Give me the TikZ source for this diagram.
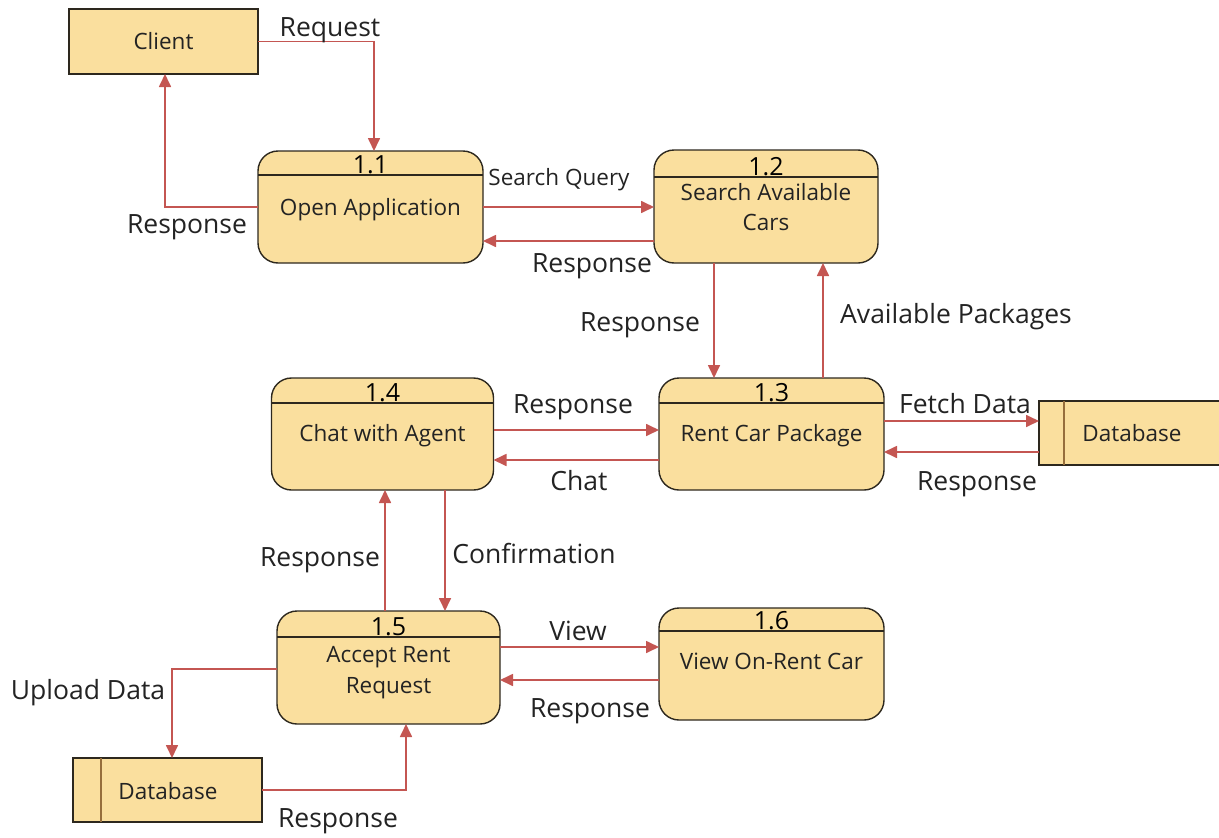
\documentclass[tikz,border=0pt]{standalone}
\usepackage{fontspec}
\setmainfont{Open Sans}
\usetikzlibrary{arrows.meta}
\definecolor{boxfill}{RGB}{250,223,158}
\definecolor{boxline}{RGB}{45,40,30}
\definecolor{flowred}{RGB}{196,86,82}
\definecolor{storeline}{RGB}{150,110,60}
\definecolor{txt}{RGB}{35,35,35}
\tikzset{
  procbox/.style={draw=boxline, line width=1.4pt, fill=boxfill, rounded corners=20pt,
    inner sep=0pt, outer sep=0pt},
  entbox/.style={draw=boxline, line width=1.4pt, fill=boxfill, inner sep=0pt, outer sep=0pt},
  divline/.style={draw=boxline, line width=1.4pt},
  storediv/.style={draw=storeline, line width=1.1pt},
  numtxt/.style={anchor=base, inner sep=0pt, text=black, font=\fontsize{25}{28}\selectfont},
  proctxt/.style={anchor=base, inner sep=0pt, text=txt, font=\fontsize{22.5}{26}\selectfont},
  lbl/.style={anchor=base, inner sep=0pt, text=txt, font=\fontsize{26.5}{30}\selectfont},
  smalllbl/.style={anchor=base, inner sep=0pt, text=txt, font=\fontsize{22.5}{26}\selectfont},
  flow/.style={draw=flowred, line width=1.7pt, -{Triangle[length=13pt,width=12pt]}},
}
\begin{document}
\begin{tikzpicture}[x=1pt,y=-1pt]
\useasboundingbox (0,0) rectangle (1219,838);
\clip (0,0) rectangle (1219,838);

% external entity
\node[entbox, minimum width=189pt, minimum height=65pt] (client) at (163.5,41.5) {};
\node[proctxt] (clientt) at (163.5,49) {Client};

% processes
\node[procbox, minimum width=225pt, minimum height=112pt] (p11) at (370.5,207) {};
\draw[divline] (p11.west |- 0,175) -- (p11.east |- 0,175);
\node[numtxt] (n11) at (370.5,173) {1.1};
\node[proctxt] (t11) at (370.5,215) {Open Application};

\node[procbox, minimum width=224pt, minimum height=113pt] (p12) at (766,206.5) {};
\draw[divline] (p12.west |- 0,177) -- (p12.east |- 0,177);
\node[numtxt] (n12) at (766,175) {1.2};
\node[proctxt] (t12a) at (766,200) {Search Available};
\node[proctxt] (t12b) at (766,230) {Cars};

\node[procbox, minimum width=225pt, minimum height=112pt] (p13) at (771.5,434) {};
\draw[divline] (p13.west |- 0,403) -- (p13.east |- 0,403);
\node[numtxt] (n13) at (771.5,401) {1.3};
\node[proctxt] (t13) at (771.5,441) {Rent Car Package};

\node[procbox, minimum width=222pt, minimum height=112pt] (p14) at (382.5,434) {};
\draw[divline] (p14.west |- 0,403) -- (p14.east |- 0,403);
\node[numtxt] (n14) at (382.5,401) {1.4};
\node[proctxt] (t14) at (382.5,441) {Chat with Agent};

\node[procbox, minimum width=223pt, minimum height=113pt] (p15) at (388.5,667.5) {};
\draw[divline] (p15.west |- 0,637) -- (p15.east |- 0,637);
\node[numtxt] (n15) at (388.5,635) {1.5};
\node[proctxt] (t15a) at (388.5,662) {Accept Rent};
\node[proctxt] (t15b) at (388.5,693) {Request};

\node[procbox, minimum width=225pt, minimum height=112pt] (p16) at (771.5,664) {};
\draw[divline] (p16.west |- 0,631) -- (p16.east |- 0,631);
\node[numtxt] (n16) at (771.5,629) {1.6};
\node[proctxt] (t16) at (771.5,669) {View On-Rent Car};

% data stores
\node[entbox, minimum width=200pt, minimum height=64pt] (db1) at (1139,433) {};
\draw[storediv] (1064,401) -- (1064,465);
\node[proctxt] (db1t) at (1132,441) {Database};

\node[entbox, minimum width=189pt, minimum height=64pt] (db2) at (167.5,790) {};
\draw[storediv] (101,758) -- (101,822);
\node[proctxt] (db2t) at (168,799) {Database};

% data flows
\draw[flow] (client.east) -| (p11.north -| 374,0);
\draw[flow] (p11.west) -| (client.south -| 165,0);
\draw[flow] (p11.east) -- (p12.west |- p11.east);
\draw[flow] (p12.west |- 0,241) -- (p11.east |- 0,241);
\draw[flow] (p12.south -| 714,0) -- (p13.north -| 714,0);
\draw[flow] (p13.north -| 823,0) -- (p12.south -| 823,0);
\draw[flow] (p14.east |- 0,430) -- (p13.west |- 0,430);
\draw[flow] (p13.west |- 0,460) -- (p14.east |- 0,460);
\draw[flow] (p13.east |- 0,421) -- (db1.west |- 0,421);
\draw[flow] (db1.west |- 0,452) -- (p13.east |- 0,452);
\draw[flow] (p15.north -| 385,0) -- (p14.south -| 385,0);
\draw[flow] (p14.south -| 445,0) -- (p15.north -| 445,0);
\draw[flow] (p15.east |- 0,647) -- (p16.west |- 0,647);
\draw[flow] (p16.west |- 0,680) -- (p15.east |- 0,680);
\draw[flow] (p15.west |- 0,669) -| (db2.north -| 172,0);
\draw[flow] (db2.east) -| (p15.south -| 406,0);

% flow labels
\node[lbl] (l1) at (330,36) {Request};
\node[lbl] (l2) at (187,233) {Response};
\node[smalllbl] (l3) at (559,185) {Search Query};
\node[lbl] (l4) at (592,272) {Response};
\node[lbl] (l5) at (640,331) {Response};
\node[lbl] (l6) at (956,323) {Available Packages};
\node[lbl] (l7) at (573,413) {Response};
\node[lbl] (l8) at (579,490) {Chat};
\node[lbl] (l9) at (965,413) {Fetch Data};
\node[lbl] (l10) at (977,490) {Response};
\node[lbl] (l11) at (320,566) {Response};
\node[lbl] (l12) at (534,563) {Confirmation};
\node[lbl] (l13) at (578,640) {View};
\node[lbl] (l14) at (590,717) {Response};
\node[lbl] (l15) at (88,699) {Upload Data};
\node[lbl] (l16) at (338,827) {Response};
\end{tikzpicture}
\end{document}
